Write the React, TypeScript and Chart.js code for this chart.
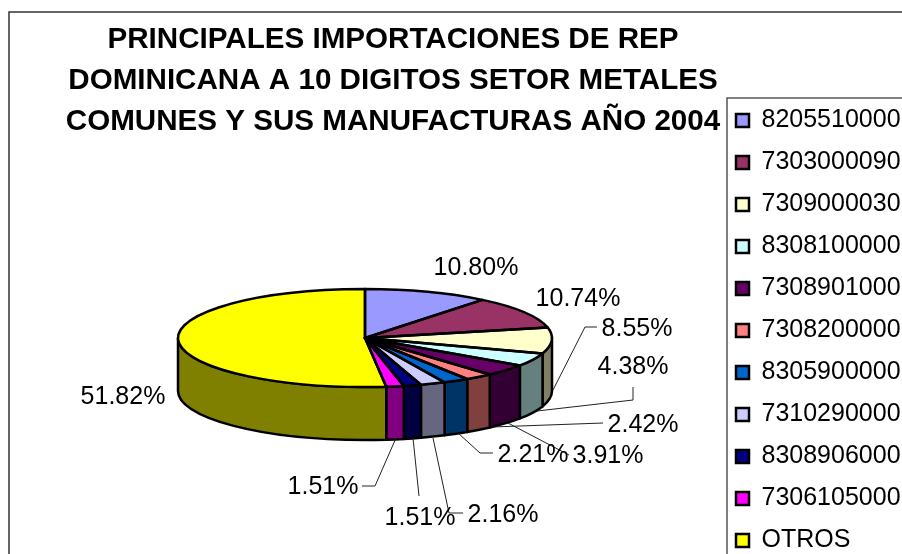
import React, { useEffect, useRef } from "react";
import { Chart, registerables } from "chart.js";

Chart.register(...registerables);

const CATEGORIES = ["8205510000","7303000090","7309000030","8308100000","7308901000","7308200000","8305900000","7310290000","8308906000","7306105000","OTROS"];
const VALUES = [10.8,10.74,8.55,4.38,3.91,2.42,2.21,2.16,1.51,1.51,51.82];
const FACE_COLORS = ["#9999FF","#993366","#FFFFCC","#CCFFFF","#660066","#FF8080","#0066CC","#CCCCFF","#000080","#FF00FF","#FFFF00"];
const SIDE_COLORS = ["#4D4D80","#4D1A33","#808066","#668080","#330033","#804040","#003366","#666680","#000040","#800080","#808000"];
const TITLE_LINES = ["PRINCIPALES IMPORTACIONES DE REP","DOMINICANA A 10 DIGITOS SETOR METALES","COMUNES Y SUS MANUFACTURAS AÑO 2004"];

// label centre per slice
const LABEL_POS: [number, number][] = [[476,268],[578,299],[637,329],[633,367],[608,456],[643,425],[533,455],[503,515],[420,518],[323,487],[123,397]];
// leader polylines per slice
const LEADERS: [number, number][][] = [
  [],[],
  [[553,390],[585,327],[597,327]],
  [[537,411],[633,400],[633,387]],
  [[508,423],[569,455]],
  [[492,427],[603,423]],
  [[458,433],[480,453],[493,453]],
  [[433,438],[449,513],[463,513]],
  [[413,438],[419,496]],
  [[396,438],[375,486],[362,486]],
  [],
];

const CX = 365, CY = 338, RX = 187, RY = 49, DEPTH = 53;
const FONT = "Liberation Sans, Arial, sans-serif";

const pie3d = {
  id: "pie3d",
  beforeDraw(chart: any) {
    const { ctx, width, height } = chart;
    ctx.save();
    ctx.fillStyle = "#fff";
    ctx.fillRect(0, 0, width, height);
    ctx.strokeStyle = "#333";
    ctx.lineWidth = 1.5;
    ctx.strokeRect(9, 12, 1000, 700);
    ctx.strokeStyle = "#555";
    ctx.strokeRect(727, 98, 300, 700);
    ctx.fillStyle = "#000";
    ctx.textAlign = "center";
    ctx.textBaseline = "middle";
    ctx.font = `bold 29.6px ${FONT}`;
    TITLE_LINES.forEach((t, i) => ctx.fillText(t, 393, 39.5 + i * 41));
    ctx.restore();
  },
  beforeDatasetsDraw(chart: any) {
    const { ctx } = chart;
    const arcs = chart.getDatasetMeta(0).data;
    ctx.save();
    ctx.strokeStyle = "#000";
    ctx.lineWidth = 2.5;
    ctx.lineJoin = "round";
    arcs.forEach((a: any, i: number) => {
      const s = Math.max(a.startAngle, 0);
      const e = Math.min(a.endAngle, Math.PI);
      if (e <= s) return;
      ctx.beginPath();
      ctx.ellipse(CX, CY, RX, RY, 0, s, e);
      ctx.ellipse(CX, CY + DEPTH, RX, RY, 0, e, s, true);
      ctx.closePath();
      ctx.fillStyle = SIDE_COLORS[i];
      ctx.fill();
      ctx.stroke();
    });
    ctx.restore();
    ctx.save();
    const k = RY / RX;
    ctx.translate(0, CY);
    ctx.scale(1, k);
    ctx.translate(0, -chart.getDatasetMeta(0).data[0].y);
  },
  afterDatasetsDraw(chart: any) {
    const { ctx } = chart;
    ctx.restore();
    const arcs = chart.getDatasetMeta(0).data;
    ctx.save();
    ctx.strokeStyle = "#000";
    ctx.lineWidth = 2.5;
    ctx.lineJoin = "round";
    arcs.forEach((a: any) => {
      ctx.beginPath();
      ctx.moveTo(CX, CY);
      ctx.ellipse(CX, CY, RX, RY, 0, a.startAngle, a.endAngle);
      ctx.closePath();
      ctx.stroke();
    });
    ctx.lineWidth = 1;
    ctx.strokeStyle = "#222";
    LEADERS.forEach((pts) => {
      if (!pts.length) return;
      ctx.beginPath();
      pts.forEach(([x, y], i) => (i ? ctx.lineTo(x, y) : ctx.moveTo(x, y)));
      ctx.stroke();
    });
    ctx.fillStyle = "#000";
    ctx.font = `25px ${FONT}`;
    ctx.textAlign = "center";
    ctx.textBaseline = "middle";
    VALUES.forEach((v, i) => ctx.fillText(v.toFixed(2) + "%", LABEL_POS[i][0], LABEL_POS[i][1]));
    ctx.restore();
  },
};

export default function App() {
  const ref = useRef<HTMLCanvasElement>(null);
  useEffect(() => {
    const chart = new Chart(ref.current!, {
      type: "pie",
      data: {
        labels: CATEGORIES,
        datasets: [{ data: VALUES, backgroundColor: FACE_COLORS, borderWidth: 0, radius: RX }],
      },
      options: {
        animation: false,
        responsive: false,
        layout: { padding: { left: 11, right: 0, top: 91, bottom: 15 } },
        plugins: {
          tooltip: { enabled: false },
          title: { display: false },
          legend: {
            display: true,
            position: "right",
            align: "start",
            maxWidth: 183,
            onClick: () => {},
            labels: {
              boxWidth: 13,
              boxHeight: 13,
              padding: 17,
              color: "#000",
              font: { size: 25, family: FONT },
              generateLabels: () =>
                CATEGORIES.map((t, i) => ({
                  text: t,
                  fillStyle: FACE_COLORS[i],
                  strokeStyle: "#000",
                  lineWidth: 2.5,
                  index: i,
                  hidden: false,
                })),
            },
          },
        },
      },
      plugins: [pie3d],
    } as any);
    return () => chart.destroy();
  }, []);
  return (
    <div style={{ position: "fixed", left: 0, top: 0, width: 902, height: 554, overflow: "hidden", background: "#fff" }}>
      <canvas ref={ref} width={902} height={600} style={{ display: "block" }} />
    </div>
  );
}
